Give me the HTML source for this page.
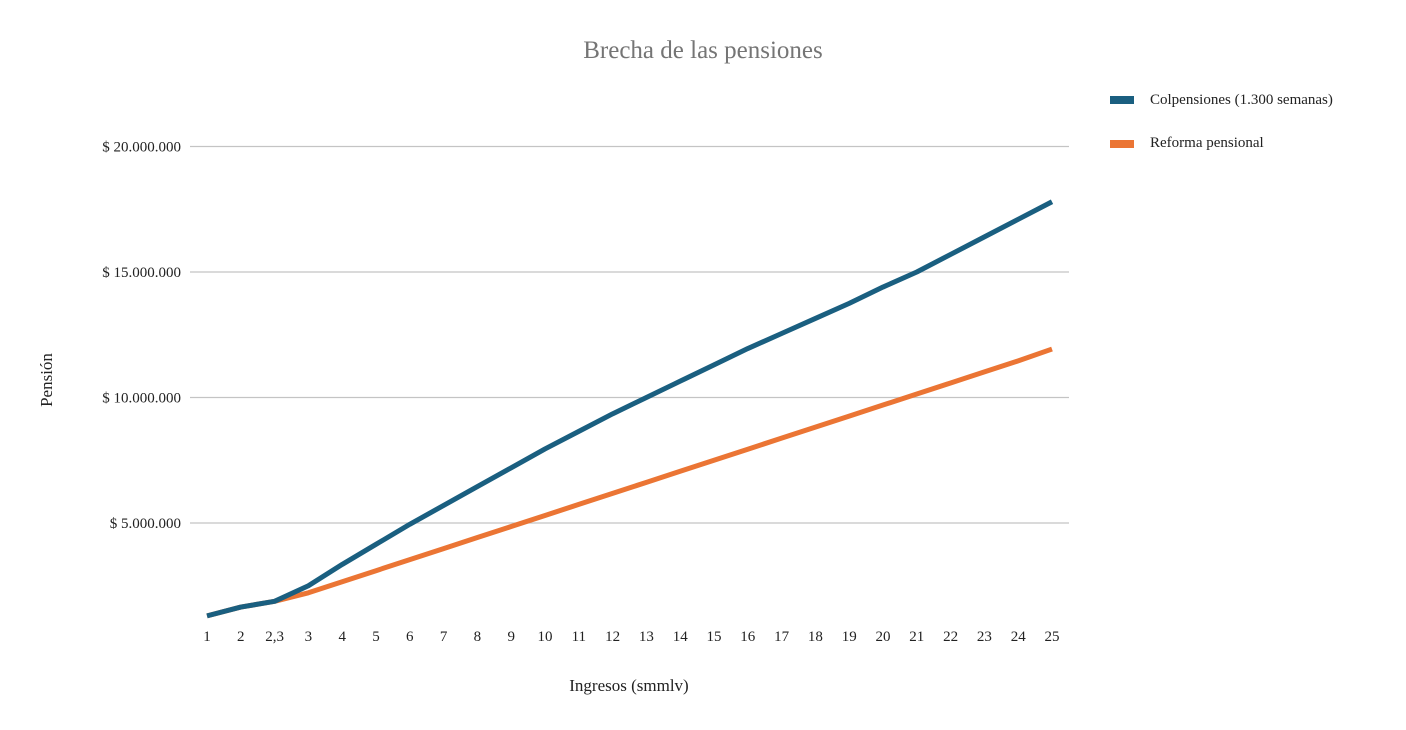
<!DOCTYPE html>
<html><head><meta charset="utf-8"><style>
body{margin:0;background:#fff;}
svg{display:block;font-family:"Liberation Serif",serif;}
</style></head><body>
<svg id="chart" width="1406" height="730" xmlns="http://www.w3.org/2000/svg">
<text x="703" y="58" text-anchor="middle" font-size="25" fill="#757575">Brecha de las pensiones</text>
<g id="grid"></g>
<g id="xticks"></g>
<g id="series"></g>
<text transform="translate(52,380) rotate(-90)" text-anchor="middle" font-size="17" fill="#222">Pensión</text>
<text x="629" y="691" text-anchor="middle" font-size="17" fill="#222">Ingresos (smmlv)</text>
<g>
<g><rect x="1110" y="96" width="24" height="8" fill="#1a5f80"/><text x="1150" y="104" font-size="15" fill="#222">Colpensiones (1.300 semanas)</text></g>
<g><rect x="1110" y="140" width="24" height="8" fill="#eb7534"/><text x="1150" y="147" font-size="15" fill="#222">Reforma pensional</text></g>
</g>
</svg>
<script>
const categories=["1","2","2,3","3","4","5","6","7","8","9","10","11","12","13","14","15","16","17","18","19","20","21","22","23","24","25"];
const colpensiones=[1.3,1.65,1.88,2.5,3.35,4.15,4.95,5.7,6.45,7.2,7.95,8.65,9.35,10.0,10.65,11.3,11.95,12.55,13.15,13.75,14.4,15.0,15.7,16.4,17.1,17.8];
const reforma=[1.3,1.65,1.88,2.22,2.66,3.1,3.54,3.98,4.42,4.86,5.3,5.74,6.18,6.62,7.06,7.5,7.94,8.38,8.82,9.26,9.7,10.14,10.58,11.02,11.46,11.93];
const yTicks=[5,10,15,20];
const yTickLabels=["$ 5.000.000","$ 10.000.000","$ 15.000.000","$ 20.000.000"];
const NS="http://www.w3.org/2000/svg";
const x0=207,x1=1052;
function xs(i){return x0+(x1-x0)*i/(categories.length-1);}
function ys(v){return 648.5-v*25.1;}
const grid=document.getElementById('grid');
yTicks.forEach((t,i)=>{
 const l=document.createElementNS(NS,'line');
 
 
 l.setAttribute('x1',190);l.setAttribute('x2',1069);l.setAttribute('y1',ys(t));l.setAttribute('y2',ys(t));
 l.setAttribute('stroke','#c4c4c4');l.setAttribute('stroke-width','1.3');grid.appendChild(l);
 const tx=document.createElementNS(NS,'text');
 
 
 tx.setAttribute('x',181);tx.setAttribute('y',ys(t)+5);tx.setAttribute('text-anchor','end');tx.setAttribute('font-size','15');tx.setAttribute('fill','#222');
 tx.textContent=yTickLabels[i];grid.appendChild(tx);
});
const xt=document.getElementById('xticks');
categories.forEach((c,i)=>{
 const tx=document.createElementNS(NS,'text');
 
 
 tx.setAttribute('x',xs(i));tx.setAttribute('y',641);tx.setAttribute('text-anchor','middle');tx.setAttribute('font-size','15');tx.setAttribute('fill','#222');
 tx.textContent=c;xt.appendChild(tx);
});
const sg=document.getElementById('series');
[[reforma,'#eb7534','reforma-line'],[colpensiones,'#1a5f80','colpensiones-line']].forEach(([d,col,name])=>{
 const p=document.createElementNS(NS,'polyline');
 
 
 p.setAttribute('points',d.map((v,i)=>xs(i)+','+ys(v)).join(' '));
 p.setAttribute('fill','none');p.setAttribute('stroke',col);p.setAttribute('stroke-width','5');p.setAttribute('stroke-linejoin','round');
 sg.appendChild(p);
});
</script>
</body></html>
